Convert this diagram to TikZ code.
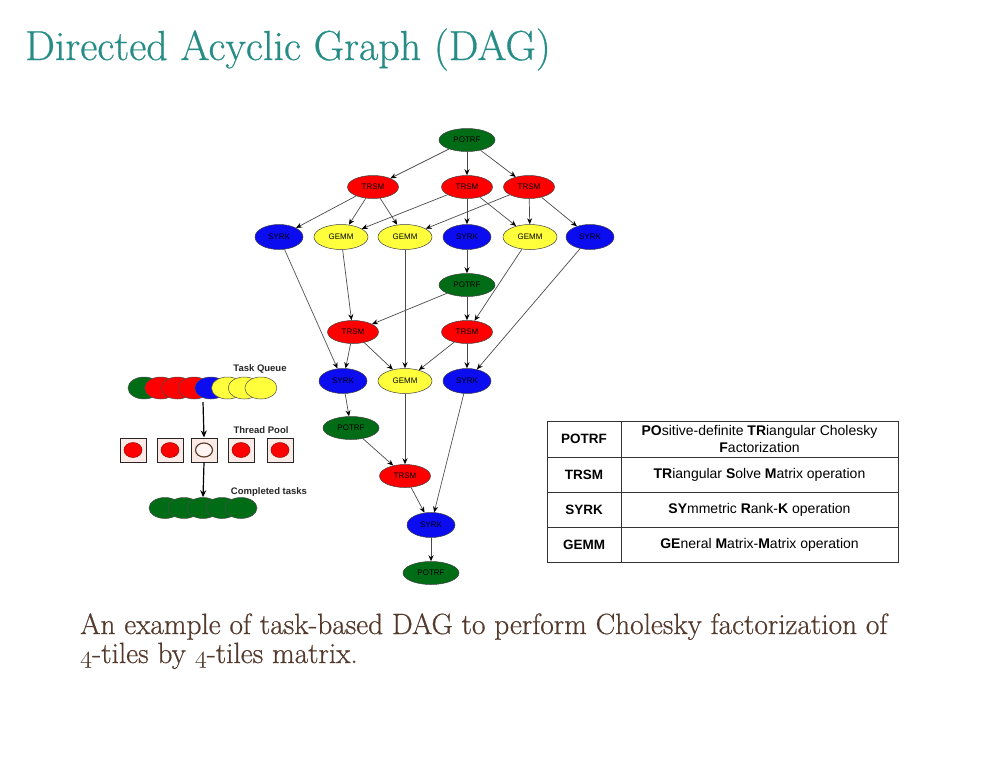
\documentclass[tikz,border=0pt]{standalone}
\usepackage{fontspec}
\usetikzlibrary{shapes.geometric,arrows.meta}
\newfontfamily\lsans{Liberation Sans}
\newfontfamily\slideserif{Latin Modern Roman}[FakeBold=0.6]
\newcommand\osfdigit[1]{{\usefont{OML}{lmm}{m}{it}#1}}
\definecolor{titleteal}{RGB}{38,140,134}
\definecolor{captionbrown}{RGB}{84,58,44}
\definecolor{potrfgreen}{RGB}{0,108,22}
\definecolor{trsmred}{RGB}{255,0,0}
\definecolor{syrkblue}{RGB}{12,12,240}
\definecolor{gemmyellow}{RGB}{255,255,60}
\definecolor{poolpink}{RGB}{252,234,230}
\definecolor{edgegray}{RGB}{75,75,75}
\definecolor{ringbrown}{RGB}{90,62,44}
\begin{document}
\begin{tikzpicture}[x=1pt,y=-1pt,
  task/.style={ellipse, draw=black!75, line width=0.5pt, inner sep=0pt,
    font=\lsans\fontsize{8}{9}\selectfont},
  potrf/.style={task, fill=potrfgreen, minimum width=56pt, minimum height=23pt},
  trsm/.style={task, fill=trsmred, minimum width=51pt, minimum height=23pt},
  syrk/.style={task, fill=syrkblue, minimum width=48pt, minimum height=25pt},
  gemm/.style={task, fill=gemmyellow, minimum width=54pt, minimum height=25pt},
  dep/.style={draw=edgegray, line width=0.7pt,
    -{Stealth[length=6pt,width=5pt,color=black]}},
  token/.style={ellipse, draw=black!70, line width=0.5pt, inner sep=0pt,
    minimum width=32pt, minimum height=22pt},
  worker/.style={rectangle, draw=black!85, fill=poolpink, line width=1pt,
    minimum width=26pt, minimum height=24pt, inner sep=0pt},
  busy/.style={ellipse, draw=red!60!black, fill=trsmred, line width=0.5pt,
    minimum width=18pt, minimum height=15pt, inner sep=0pt},
  idle/.style={ellipse, draw=ringbrown, fill=poolpink!50!white, line width=1.2pt,
    minimum width=17pt, minimum height=14pt, inner sep=0pt},
  flow/.style={draw=black, line width=1.2pt, -{Stealth[length=7pt,width=6pt]}},
  panellabel/.style={inner sep=0pt, font=\lsans\bfseries\fontsize{9.5}{10}\selectfont, text=black!85},
  tablekey/.style={inner sep=0pt, font=\lsans\bfseries\fontsize{13.5}{16}\selectfont},
  tabledesc/.style={inner sep=0pt, align=center, font=\lsans\fontsize{14}{17}\selectfont},
  rule/.style={draw=black!80, line width=0.8pt}
]
\useasboundingbox (0,0) rectangle (1008,756);

% heading and caption
\node[anchor=base west, inner sep=0pt, text=titleteal,
  font=\slideserif\fontsize{42}{46}\selectfont] (title) at (25,60) {Directed Acyclic Graph (DAG)};
\node[anchor=base west, inner sep=0pt, text=captionbrown,
  font=\slideserif\fontsize{29.3}{33}\selectfont] (caption1) at (80,634)
  {An example of task-based DAG to perform Cholesky factorization of};
\node[anchor=base west, inner sep=0pt, text=captionbrown,
  font=\slideserif\fontsize{29.3}{33}\selectfont] (caption2) at (80,663)
  {\osfdigit{4}-tiles by \osfdigit{4}-tiles matrix.};

% task graph of the tiled Cholesky factorization
\node[potrf] (potrfA) at (467,140) {POTRF};
\node[trsm] (trsmA) at (373,187) {TRSM};
\node[trsm] (trsmB) at (467,187) {TRSM};
\node[trsm] (trsmC) at (529,187) {TRSM};
\node[syrk] (syrkA) at (279,237) {SYRK};
\node[gemm] (gemmA) at (341,237) {GEMM};
\node[gemm] (gemmB) at (405,237) {GEMM};
\node[syrk] (syrkB) at (467,237) {SYRK};
\node[gemm] (gemmC) at (530,237) {GEMM};
\node[syrk] (syrkC) at (590,237) {SYRK};
\node[potrf] (potrfB) at (467,285) {POTRF};
\node[trsm] (trsmD) at (353,332) {TRSM};
\node[trsm] (trsmE) at (467,332) {TRSM};
\node[syrk] (syrkD) at (343,381) {SYRK};
\node[gemm] (gemmD) at (405,381) {GEMM};
\node[syrk] (syrkE) at (467,381) {SYRK};
\node[potrf] (potrfC) at (351,428) {POTRF};
\node[trsm] (trsmF) at (405,476) {TRSM};
\node[syrk] (syrkF) at (431,525) {SYRK};
\node[potrf] (potrfD) at (431,573) {POTRF};

\foreach \a/\b in {potrfA/trsmA, potrfA/trsmB, potrfA/trsmC,
  trsmA/syrkA, trsmA/gemmA, trsmA/gemmB,
  trsmB/gemmA, trsmB/syrkB, trsmB/gemmC,
  trsmC/gemmB, trsmC/gemmC, trsmC/syrkC,
  syrkA/syrkD, gemmA/trsmD, gemmB/gemmD, syrkB/potrfB, gemmC/trsmE, syrkC/syrkE,
  potrfB/trsmD, potrfB/trsmE,
  trsmD/syrkD, trsmD/gemmD, trsmE/gemmD, trsmE/syrkE,
  syrkD/potrfC, gemmD/trsmF, syrkE/syrkF,
  potrfC/trsmF, trsmF/syrkF, syrkF/potrfD}
  \draw[dep] (\a) -- (\b);

% task queue, thread pool and completed tasks
\node[panellabel] (queuelabel) at (260,369) {Task Queue};
\foreach \i/\c in {1/potrfgreen, 2/trsmred, 3/trsmred, 4/trsmred,
  5/syrkblue, 6/gemmyellow, 7/gemmyellow, 8/gemmyellow}
  \node[token, fill=\c] (queue\i) at ({144+16.7*(\i-1)},388) {};

\node[panellabel] (poollabel) at (261,430) {Thread Pool};
\foreach \i/\x in {1/133, 2/170, 3/204, 4/241, 5/280}
  \node[worker] (pool\i) at (\x,450) {};
\foreach \i in {1,2,4,5}
  \node[busy] (job\i) at (pool\i) {};
\node[idle] (job3) at (pool3) {};

\node[panellabel] (donelabel) at (269,492) {Completed tasks};
\foreach \i/\x in {1/165, 2/184, 3/203, 4/222, 5/241}
  \node[token, fill=potrfgreen, minimum height=21pt] (done\i) at (\x,508) {};

\coordinate (queueout) at (203,402);
\draw[flow] (queueout) -- (pool3.north);
\draw[flow] (pool3.south) -- (done3.north);

% legend table
\draw[rule] (547,421) rectangle (898,562);
\draw[rule] (621,421) -- (621,562);
\draw[rule] (547,457) -- (898,457);
\draw[rule] (547,492) -- (898,492);
\draw[rule] (547,527) -- (898,527);

\node[tablekey] (keyPOTRF) at (584,439) {POTRF};
\node[tabledesc] (descPOTRF) at (759.5,439)
  {\textbf{PO}sitive-definite \textbf{TR}iangular Cholesky\\\textbf{F}actorization};
\node[tablekey] (keyTRSM) at (584,474.5) {TRSM};
\node[tabledesc] (descTRSM) at (759.5,474.5)
  {\textbf{TR}iangular \textbf{S}olve \textbf{M}atrix operation};
\node[tablekey] (keySYRK) at (584,509.5) {SYRK};
\node[tabledesc] (descSYRK) at (759.5,509.5)
  {\textbf{SY}mmetric \textbf{R}ank-\textbf{K} operation};
\node[tablekey] (keyGEMM) at (584,544.5) {GEMM};
\node[tabledesc] (descGEMM) at (759.5,544.5)
  {\textbf{GE}neral \textbf{M}atrix-\textbf{M}atrix operation};
\end{tikzpicture}
\end{document}
